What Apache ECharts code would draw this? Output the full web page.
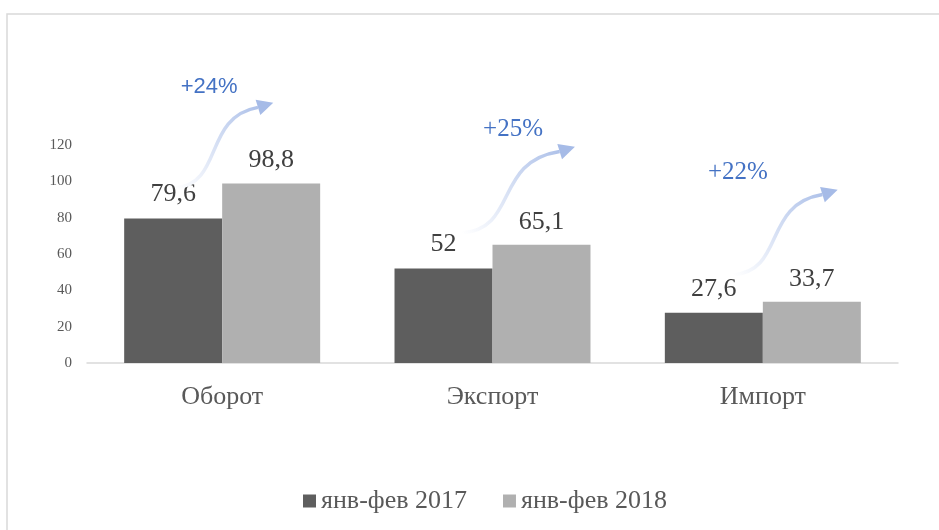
<!DOCTYPE html>
<html>
<head>
<meta charset="utf-8">
<script src="https://cdn.jsdelivr.net/npm/echarts@6/dist/echarts.min.js"></script>
<style>
  html, body { margin: 0; padding: 0; background: #fff; }
  #chart { width: 939px; height: 530px; }
</style>
</head>
<body>
<div id="chart"></div>
<script>
// данные
const categories = ['Оборот', 'Экспорт', 'Импорт'];
const seriesNames = ['янв-фев 2017', 'янв-фев 2018'];
const values2017 = [79.6, 52, 27.6];
const values2018 = [98.8, 65.1, 33.7];
const growthLabels = ['+24%', '+25%', '+22%'];
const yTicks = [0, 20, 40, 60, 80, 100, 120];

// arrows: offsets as share of band width, heights in axis units
const arrowGeom = [
    { tail: [-0.174, 96.4], tip: [0.189, 143.3], text: [-0.048, 152], font: 'Liberation Sans', size: 22 },
    { tail: [-0.113, 71.6], tip: [0.305, 119.0], text: [0.076, 128.4], font: 'Liberation Serif', size: 25 },
    { tail: [-0.110, 48.5], tip: [0.277, 95.3], text: [-0.092, 104.7], font: 'Liberation Serif', size: 25 }
];

const serif = 'Liberation Serif, Times New Roman, serif';
const chart = echarts.init(document.getElementById('chart'));

const fmt = v => String(v).replace('.', ',');

chart.setOption({
    animation: false,
    backgroundColor: '#fff',
    graphic: [{
        type: 'rect', silent: true,
        shape: { x: 7, y: 14, width: 1000, height: 600 },
        style: { fill: 'none', stroke: '#d9d9d9', lineWidth: 1.5 }
    }],
    grid: { left: 87, right: 41, top: 145, bottom: 167 },
    legend: {
        bottom: 11, left: 298,
        icon: 'rect', itemWidth: 13, itemHeight: 13, itemGap: 36, itemTextGap: 6,
        textStyle: { fontFamily: serif, fontSize: 26, color: '#595959' },
        data: seriesNames
    },
    xAxis: {
        type: 'category', data: categories,
        axisLine: { lineStyle: { color: '#d9d9d9', width: 1.5 } },
        axisTick: { show: false },
        axisLabel: { fontFamily: serif, fontSize: 26, color: '#595959', margin: 21 }
    },
    yAxis: {
        type: 'value', min: yTicks[0], max: yTicks[yTicks.length - 1], interval: 20,
        axisLine: { show: false }, axisTick: { show: false },
        splitLine: { show: false },
        axisLabel: { fontFamily: serif, fontSize: 15, color: '#595959', margin: 15 }
    },
    series: [
        {
            name: seriesNames[0], type: 'bar', data: values2017,
            barGap: '0%', barCategoryGap: '27.5%',
            itemStyle: { color: '#5e5e5e' },
            label: { show: true, position: 'top', distance: 11, formatter: p => fmt(p.value),
                     fontFamily: serif, fontSize: 26, color: '#404040' }
        },
        {
            name: seriesNames[1], type: 'bar', data: values2018,
            itemStyle: { color: '#b0b0b0' },
            label: { show: true, position: 'top', distance: 10, formatter: p => fmt(p.value),
                     fontFamily: serif, fontSize: 26, color: '#404040' }
        },
        {
            type: 'custom', clip: false, silent: true, z: 10,
            data: categories.map((c, i) => [i, 0]),
            renderItem: function (params, api) {
                const i = api.value(0);
                const g = arrowGeom[i];
                const band = api.size([1, 0])[0];
                const pt = (p) => {
                    const c = api.coord([i, p[1]]);
                    return [c[0] + p[0] * band, c[1]];
                };
                const a = pt(g.tail), b = pt(g.tip);
                const dx = b[0] - a[0];
                // arrowhead direction
                const ang = -0.3;
                const headLen = 16, headW = 8;
                const ux = Math.cos(ang), uy = Math.sin(ang);
                const base = [b[0] - ux * headLen, b[1] - uy * headLen];
                const grad = {
                    type: 'linear', x: a[0], y: a[1], x2: b[0], y2: b[1], global: true,
                    colorStops: [{ offset: 0, color: 'rgba(255,255,255,1)' },
                                 { offset: 1, color: '#a6bbe7' }]
                };
                return {
                    type: 'group',
                    children: [
                        {
                            type: 'bezierCurve',
                            shape: {
                                x1: a[0], y1: a[1], x2: base[0], y2: base[1],
                                cpx1: a[0] + dx * 0.5, cpy1: a[1] - 4,
                                cpx2: a[0] + dx * 0.28, cpy2: base[1] + 10
                            },
                            style: { fill: 'none', stroke: grad, lineWidth: 3.5 }
                        },
                        {
                            type: 'polygon',
                            shape: { points: [
                                [b[0], b[1]],
                                [base[0] - uy * headW, base[1] + ux * headW],
                                [base[0] + uy * headW, base[1] - ux * headW]
                            ] },
                            style: { fill: '#a6bbe7' }
                        },
                        {
                            type: 'text',
                            x: pt(g.text)[0], y: pt(g.text)[1],
                            style: {
                                text: growthLabels[i], align: 'center', verticalAlign: 'middle',
                                fontFamily: g.font, fontSize: g.size, fill: '#4472c4'
                            }
                        }
                    ]
                };
            }
        }
    ]
});
</script>
</body>
</html>
